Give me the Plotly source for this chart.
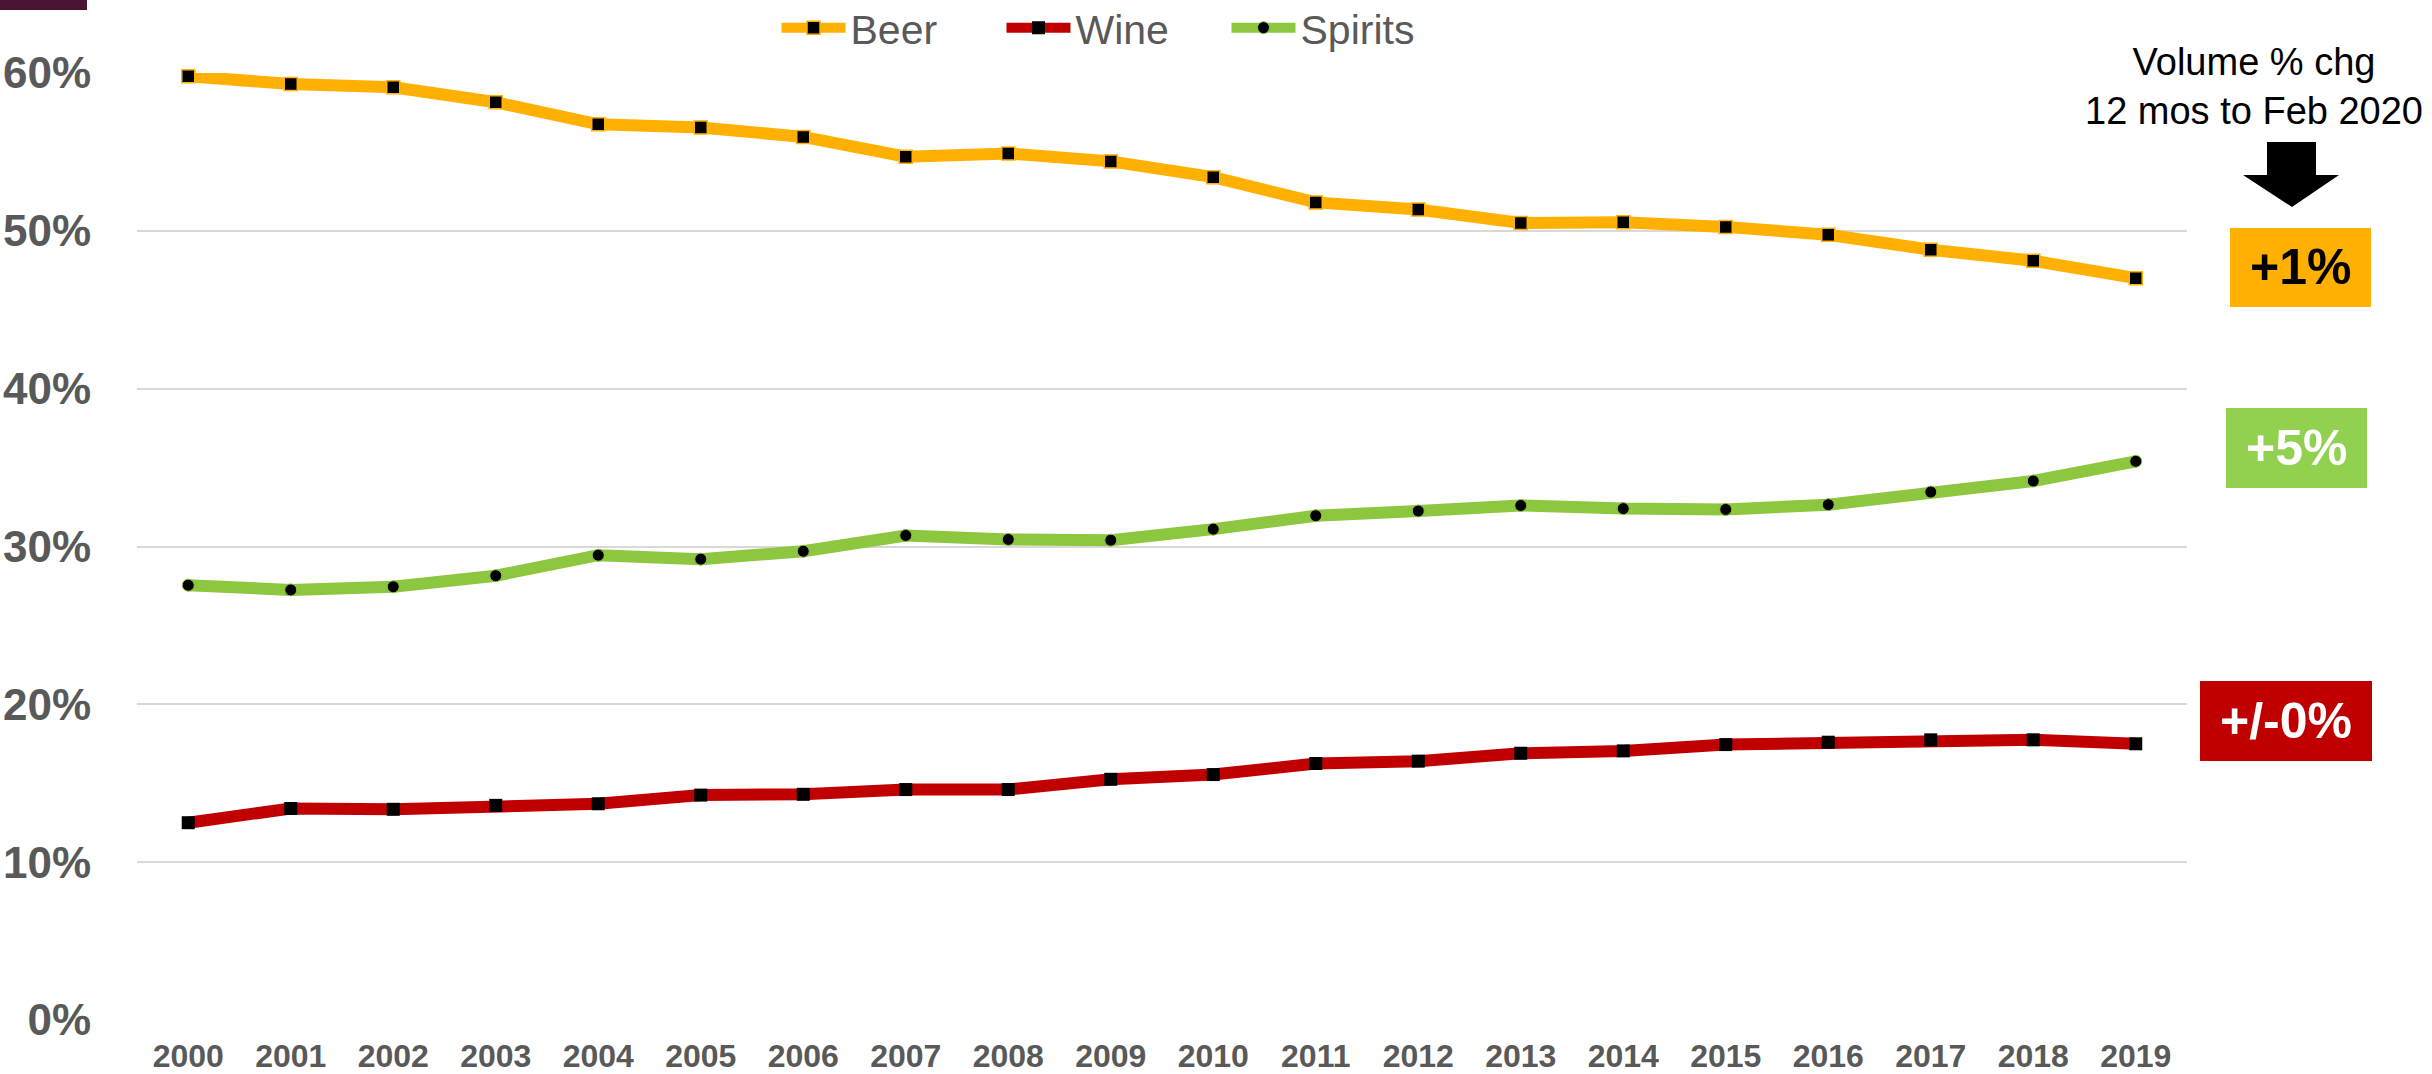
import plotly.graph_objects as go

# Share of total alcohol volume by category, 2000-2019 (%)
years = [str(y) for y in range(2000, 2020)]
beer = [59.8, 59.3, 59.1, 58.15, 56.75, 56.55, 55.95, 54.7, 54.9, 54.4,
        53.4, 51.8, 51.35, 50.5, 50.55, 50.25, 49.75, 48.8, 48.1, 47.0]
wine = [12.5, 13.4, 13.35, 13.6, 13.7, 14.25, 14.3, 14.6, 14.6, 15.25,
        15.55, 16.25, 16.4, 16.9, 17.05, 17.45, 17.6, 17.75, 17.75, 17.5]
spirits = [27.55, 27.25, 27.45, 28.15, 29.45, 29.2, 29.7, 30.7, 30.45, 30.4,
           31.1, 31.95, 32.25, 32.6, 32.4, 32.35, 32.65, 33.45, 34.15, 35.4]

# Latest 12-month volume change per category
change_labels = ["+1%", "+5%", "+/-0%"]
change_title = "Volume % chg<br>12 mos to Feb 2020"

BEER_C, WINE_C, SPIRITS_C = "#FFB000", "#C00000", "#8DC63F"
GRAY = "#595959"
FONT = "Liberation Sans, Arial, sans-serif"

W, H = 2432, 1074
PL, PR, PT, PB = 137, 2187, 73, 1020


def px(x):
    return (x - PL) / (PR - PL)


def py(y):
    return (PB - y) / (PB - PT)


fig = go.Figure()
fig.add_trace(go.Scatter(
    x=years, y=beer, name="Beer", mode="lines+markers",
    line=dict(color=BEER_C, width=12),
    marker=dict(symbol="square", size=13, color="black",
                line=dict(color=BEER_C, width=1.5)),
    cliponaxis=False))
fig.add_trace(go.Scatter(
    x=years, y=wine, name="Wine", mode="lines+markers",
    line=dict(color=WINE_C, width=12),
    marker=dict(symbol="square", size=13, color="black",
                line=dict(width=0)),
    cliponaxis=False))
fig.add_trace(go.Scatter(
    x=years, y=spirits, name="Spirits", mode="lines+markers",
    line=dict(color=SPIRITS_C, width=12),
    marker=dict(symbol="circle", size=12, color="black",
                line=dict(color=SPIRITS_C, width=1)),
    cliponaxis=False))

shapes = []
annotations = []

# Corner accent bar
shapes.append(dict(type="rect", xref="paper", yref="paper",
                   x0=px(0), x1=px(87), y0=py(10), y1=py(0),
                   fillcolor="#4B1532", line=dict(width=0)))

# Down arrow below the change heading
arrow = [(2267, 142), (2316, 142), (2316, 175), (2339, 175),
         (2292, 207), (2243, 175), (2267, 175)]
path = "M " + " L ".join(f"{px(a):.5f},{py(b):.5f}" for a, b in arrow) + " Z"
shapes.append(dict(type="path", xref="paper", yref="paper", path=path,
                   fillcolor="black", line=dict(width=0)))

# Coloured change boxes
boxes = [
    (2230, 2371, 228, 307, BEER_C, "black"),
    (2226, 2367, 408, 488, "#92D050", "white"),
    (2200, 2372, 681, 761, WINE_C, "white"),
]
for (x0, x1, y0, y1, fill, tc), label in zip(boxes, change_labels):
    shapes.append(dict(type="rect", xref="paper", yref="paper",
                       x0=px(x0), x1=px(x1), y0=py(y1), y1=py(y0),
                       fillcolor=fill, line=dict(width=0)))
    annotations.append(dict(
        xref="paper", yref="paper", x=px((x0 + x1) / 2), y=py((y0 + y1) / 2),
        text=label, showarrow=False, xanchor="center", yanchor="middle",
        font=dict(family=FONT, size=50, color=tc, weight="bold")))

annotations.append(dict(
    xref="paper", yref="paper", x=px(2254), y=py(86),
    text=change_title, showarrow=False, xanchor="center", yanchor="middle",
    align="center", font=dict(family=FONT, size=38, color="black")))

fig.update_layout(
    width=W, height=H,
    margin=dict(l=PL, r=W - PR, t=PT, b=H - PB, autoexpand=False),
    paper_bgcolor="white", plot_bgcolor="white",
    font=dict(family=FONT, color=GRAY),
    showlegend=True,
    legend=dict(orientation="h", x=px(1114), xanchor="center",
                y=py(28), yanchor="middle",
                font=dict(family=FONT, size=41, color=GRAY),
                itemwidth=64, entrywidth=146, entrywidthmode="pixels",
                bgcolor="rgba(0,0,0,0)"),
    shapes=shapes,
    annotations=annotations,
    xaxis=dict(type="category", range=[-0.5, len(years) - 0.5],
               showgrid=False, showline=False, zeroline=False,
               automargin=False,
               ticks="outside", ticklen=8, tickcolor="rgba(0,0,0,0)",
               tickfont=dict(family=FONT, size=32, color=GRAY, weight="bold")),
    yaxis=dict(range=[0, 60], dtick=10, ticksuffix="%",
               showgrid=True, gridcolor="#D9D9D9", gridwidth=2,
               showline=False, zeroline=False, automargin=False,
               ticks="outside", ticklen=36, tickcolor="rgba(0,0,0,0)",
               tickfont=dict(family=FONT, size=44, color=GRAY, weight="bold")),
)

fig.write_html("out.html")
